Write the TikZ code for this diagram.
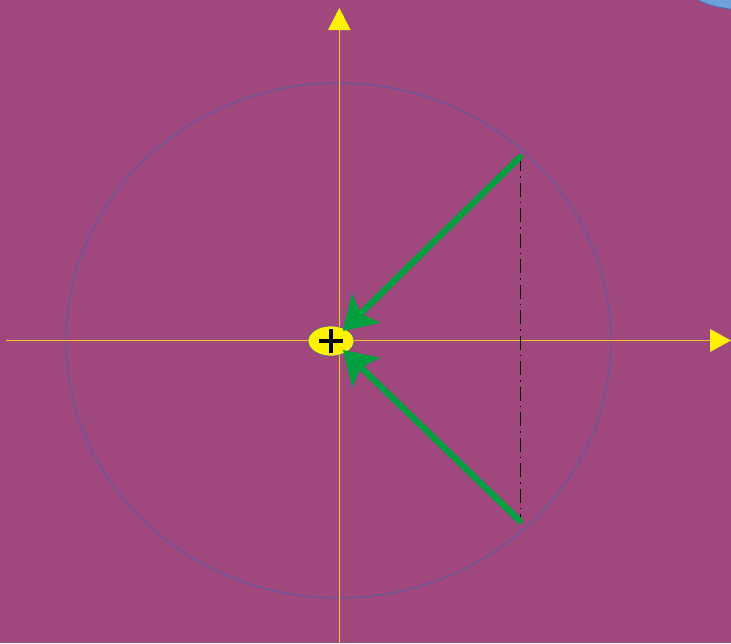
\documentclass[tikz,border=0pt]{standalone}
\usetikzlibrary{arrows.meta,shapes.geometric}
\definecolor{bg}{RGB}{160,72,126}
\definecolor{ring}{RGB}{85,90,165}
\definecolor{axisc}{RGB}{240,200,40}
\definecolor{grn}{RGB}{0,160,64}
\definecolor{lblue}{RGB}{110,160,220}
\definecolor{dblue}{RGB}{70,110,180}
\tikzset{
  axisline/.style={axisc, line width=1.3pt},
  axistip/.style={fill=yellow, draw=none},
  vec/.style={grn, line width=6.3pt, -{Stealth[length=32pt, width=40pt, inset=7pt]}},
  origin/.style={ellipse, fill=yellow, draw=ring, line width=0.6pt, minimum width=46pt, minimum height=30pt, inner sep=0pt},
  plusbar/.style={black, line width=3.6pt},
}
\begin{document}
\begin{tikzpicture}[x=1pt,y=-1pt]
\fill[bg] (0,0) rectangle (731,643);
\useasboundingbox (0,0) rectangle (731,643);
% corner shape
\fill[lblue] (698,0) .. controls (710,6) and (722,8) .. (731,9) -- (731,0) -- cycle;
\draw[dblue, line width=0.8pt] (698,0) .. controls (710,6) and (722,8) .. (731,9);
% circle
\draw[ring, line width=0.9pt] (338.5,340.5) ellipse [x radius=272.5pt, y radius=257.5pt];
% axes
\coordinate (xl) at (6,340.5);
\coordinate (xr) at (712,340.5);
\coordinate (yb) at (339.3,643);
\coordinate (yt) at (339.3,30);
\draw[axisline] (xl) -- (xr);
\fill[axisc] ([xshift=-0.7pt]yb) rectangle ([xshift=0.7pt]yt);
\fill[axistip] (710,329) -- (731,340.5) -- (710,352) -- cycle;
\fill[axistip] (328,30) -- (339.3,8) -- (350.6,30) -- cycle;
% points
\coordinate (P) at (520,157);
\coordinate (Q) at (520,521);
\draw[black, line width=0.8pt, dash pattern=on 14pt off 5pt on 1.5pt off 5pt] (P) -- (Q);
\node[origin] (O) at (331,341) {};
\draw[plusbar] ([xshift=-12pt]O.center) -- ([xshift=12pt]O.center);
\draw[plusbar] ([yshift=-12pt]O.center) -- ([yshift=12pt]O.center);
\coordinate (tipA) at (343,331);
\coordinate (tipB) at (343,350);
\draw[vec, line cap=round] (P) -- (tipA);
\draw[vec, line cap=round] (Q) -- (tipB);
\end{tikzpicture}
\end{document}
